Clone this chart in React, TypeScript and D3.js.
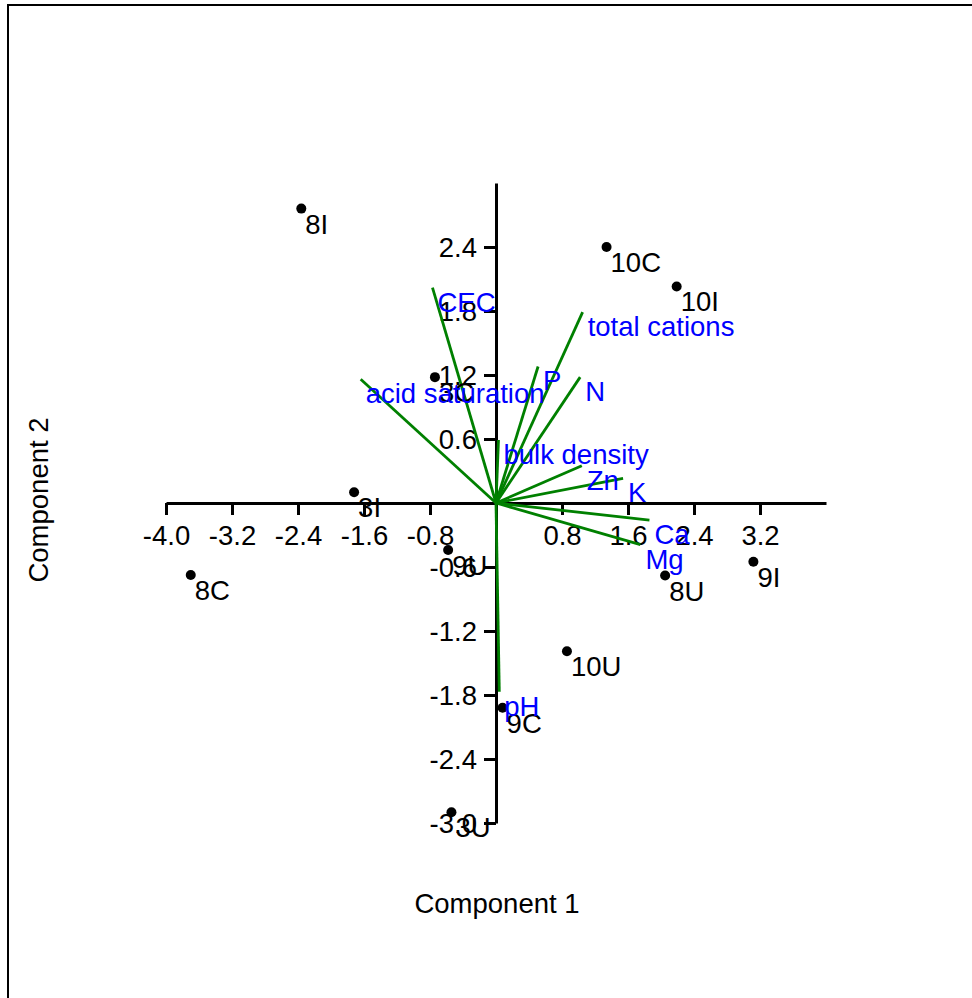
import * as d3 from "d3";
import { useEffect, useRef } from "react";

// sample scores (component 1, component 2)
const sampleNames = ["8I", "10C", "10I", "3C", "3I", "9U", "8C", "9C", "3U", "10U", "8U", "9I"];
const sampleX = [-2.36, 1.34, 2.19, -0.74, -1.72, -0.58, -3.7, 0.08, -0.54, 0.86, 2.05, 3.12];
const sampleY = [2.76, 2.4, 2.03, 1.18, 0.1, -0.44, -0.675, -1.92, -2.9, -1.39, -0.68, -0.55];

// variable loadings (scaled into the score space)
const varNames = ["CEC", "acid saturation", "P", "total cations", "N", "bulk density", "Zn", "K", "Ca", "Mg", "pH"];
const varX = [-0.77, -1.64, 0.51, 1.05, 1.02, 0.03, 1.04, 1.54, 1.86, 1.75, 0.04];
const varY = [2.02, 1.16, 1.28, 1.79, 1.18, 0.59, 0.35, 0.23, -0.16, -0.39, -1.77];

const xTicks = [-4.0, -3.2, -2.4, -1.6, -0.8, 0.8, 1.6, 2.4, 3.2];
const yTicks = [2.4, 1.8, 1.2, 0.6, -0.6, -1.2, -1.8, -2.4, -3.0];

const W = 972;
const H = 998;
const FONT = "'Liberation Sans', Arial, sans-serif";
const FS = 27.5;

export default function App() {
  const ref = useRef<SVGSVGElement | null>(null);

  useEffect(() => {
    const svg = d3.select(ref.current);
    svg.selectAll("*").remove();

    const x = d3.scaleLinear().domain([-4, 4]).range([166, 826]);
    const y = d3.scaleLinear().domain([-3, 3]).range([823, 183]);

    // outer frame (runs off the right and bottom edges)
    svg
      .append("rect")
      .attr("x", 8)
      .attr("y", 5)
      .attr("width", W + 20)
      .attr("height", H + 20)
      .attr("fill", "none")
      .attr("stroke", "#000")
      .attr("stroke-width", 2);

    const fmt = (d: d3.NumberValue) => d3.format(".1f")(d as number).replace("−", "-");

    const xAxis = d3.axisBottom(x).tickValues(xTicks).tickFormat(fmt).tickSize(12).tickSizeOuter(0).tickPadding(10);
    const xg = svg.append("g").attr("transform", `translate(0,${y(0)})`).call(xAxis);

    const yAxis = d3.axisLeft(y).tickValues(yTicks).tickFormat(fmt).tickSize(12).tickSizeOuter(0).tickPadding(7);
    const yg = svg.append("g").attr("transform", `translate(${x(0)},0)`).call(yAxis);

    [xg, yg].forEach((g) => {
      g.selectAll("path,line").attr("stroke", "#000").attr("stroke-width", 3);
      g.selectAll("text").attr("fill", "#000").attr("font-size", FS).attr("font-family", FONT);
    });
    yg.selectAll("text").attr("dy", "0.35em");

    // loading vectors
    const lines = svg.append("g");
    varNames.forEach((_, i) => {
      lines
        .append("line")
        .attr("x1", x(0))
        .attr("y1", y(0))
        .attr("x2", x(varX[i]))
        .attr("y2", y(varY[i]))
        .attr("stroke", "#008000")
        .attr("stroke-width", 2.8);
    });

    // sample points
    const pts = svg.append("g");
    sampleNames.forEach((name, i) => {
      pts
        .append("circle")
        .attr("cx", x(sampleX[i]))
        .attr("cy", y(sampleY[i]))
        .attr("r", 5)
        .attr("fill", "#000");
      pts
        .append("text")
        .attr("x", x(sampleX[i]) + 4)
        .attr("y", y(sampleY[i]) + 25)
        .attr("font-size", FS)
        .attr("font-family", FONT)
        .attr("fill", "#000")
        .text(name);
    });

    // variable labels
    const vl = svg.append("g");
    varNames.forEach((name, i) => {
      vl.append("text")
        .attr("x", x(varX[i]) + 5)
        .attr("y", y(varY[i]) + 24)
        .attr("font-size", FS)
        .attr("font-family", FONT)
        .attr("fill", "#0000ff")
        .text(name);
    });

    svg
      .append("text")
      .attr("x", x(0) + 1)
      .attr("y", 913)
      .attr("text-anchor", "middle")
      .attr("font-size", FS)
      .attr("font-family", FONT)
      .attr("fill", "#000")
      .text("Component 1");

    svg
      .append("text")
      .attr("transform", `translate(48, ${y(0) - 3}) rotate(-90)`)
      .attr("text-anchor", "middle")
      .attr("font-size", FS)
      .attr("font-family", FONT)
      .attr("fill", "#000")
      .text("Component 2");
  }, []);

  return (
    <svg
      ref={ref}
      width={W}
      height={H}
      style={{ position: "absolute", left: 0, top: 0, display: "block", background: "#fff" }}
    />
  );
}
